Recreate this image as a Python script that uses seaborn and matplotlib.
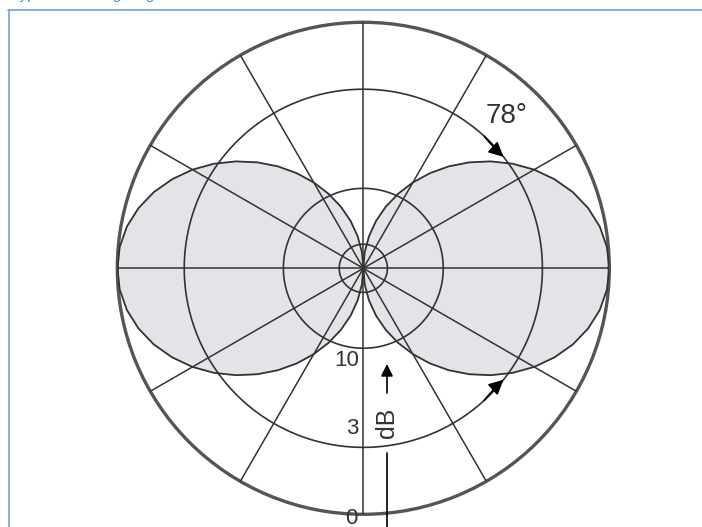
import numpy as np
import matplotlib
matplotlib.use("Agg")
import matplotlib.pyplot as plt
import seaborn as sns

# Radiation pattern of one lobe quadrant (angle in degrees, relative amplitude)
lobe_angle_deg = [0, 5, 10, 15, 20, 25, 30, 35, 40, 45,
                  50, 55, 60, 65, 70, 75, 80, 85, 90]
lobe_gain = [1.0, 0.994, 0.976, 0.946, 0.906, 0.857, 0.802, 0.741, 0.676, 0.609,
             0.541, 0.472, 0.403, 0.334, 0.266, 0.199, 0.132, 0.066, 0.0]

# Level rings (dB below maximum) and their radius on the chart
ring_db = [20, 10, 3, 0]
ring_radius = [0.098, 0.325, 0.728, 1.0]
ring_labels = ["10", "3", "0"]

spoke_deg = [0, 30, 60, 90, 120, 150, 180, 210, 240, 270, 300, 330]
beamwidth_label = "78°"
half_beam_deg = 38.5

sns.set_theme(style="white")
plt.rcParams["font.family"] = ["Liberation Sans", "DejaVu Sans"]

fig = plt.figure(figsize=(7.02, 5.27), dpi=100)

# polar axes: centre (363, 268) px, radius 246 px
ax = fig.add_axes([0.1671, 0.0241, 0.7009, 0.9336], projection="polar")
ax.set_facecolor("white")

# build the figure-8 pattern from the quadrant by symmetry
a = np.array(lobe_angle_deg, dtype=float)
g = np.array(lobe_gain)
right_ang = np.concatenate([-a[::-1], a[1:]])
right_gain = np.concatenate([g[::-1], g[1:]])
theta = np.radians(np.concatenate([right_ang, right_ang + 180]))
gain = np.concatenate([right_gain, right_gain])

ax.fill(theta, gain, color="#e3e4e8", zorder=1)
sns.lineplot(x=theta, y=gain, sort=False, estimator=None, ax=ax,
             color="#333333", linewidth=1.3, zorder=3)

# rings and spokes
circ = np.linspace(0, 2 * np.pi, 361)
for rr in ring_radius[:-1]:
    ax.plot(circ, np.full_like(circ, rr), color="#333333", lw=1.2, zorder=4)
for s in spoke_deg:
    ax.plot([np.radians(s), np.radians(s)], [0, 1], color="#333333", lw=1.1, zorder=4)

ax.set_ylim(0, 1)
ax.grid(False)
ax.set_xticks([])
ax.set_yticks([])
ax.spines["polar"].set_linewidth(2.4)
ax.spines["polar"].set_color("#555555")
ax.set_xlabel("")
ax.set_ylabel("")

# beamwidth arrows on the 3 dB ring
r3 = ring_radius[2]
arrow_kw = dict(arrowstyle="-|>", color="black", lw=1.2, mutation_scale=22,
                shrinkA=0, shrinkB=0)
ax.annotate("", xy=(np.radians(half_beam_deg), r3), xytext=(np.radians(half_beam_deg + 9), r3),
            arrowprops=dict(arrow_kw, connectionstyle="arc3,rad=0.04"), zorder=6)
ax.annotate("", xy=(np.radians(-half_beam_deg), r3), xytext=(np.radians(-half_beam_deg - 9), r3),
            arrowprops=dict(arrow_kw, connectionstyle="arc3,rad=-0.04"), zorder=6)

# overlay in pixel coordinates for labels and frame
ov = fig.add_axes([0, 0, 1, 1], facecolor="none")
ov.set_xlim(0, 702)
ov.set_ylim(527, 0)
ov.axis("off")

ov.text(507, 116, beamwidth_label, fontsize=20, color="#333333", ha="center", va="center")

label_pos = [(347, 361), (352, 429), (351, 518)]
for lab, (x, y) in zip(ring_labels, label_pos):
    ov.text(x, y, lab, fontsize=16, color="#333333", ha="center", va="center")

ov.text(387, 423, "dB", fontsize=18, color="#333333", rotation=90, ha="center", va="center")
ov.annotate("", xy=(387, 364), xytext=(387, 393),
            arrowprops=dict(arrowstyle="-|>", color="black", lw=1.2, mutation_scale=18,
                            shrinkA=0, shrinkB=0))
ov.plot([387, 387], [453, 527], color="black", lw=1.2)

# page frame and clipped caption (only descenders show, as in the source page)
ov.plot([8.5, 8.5], [10, 527], color="#6fa3d6", lw=1.2)
ov.plot([8, 702], [10, 10], color="#6fa3d6", lw=1.2)
ov.text(11, -1.2, "Typical radiating diagram", fontsize=11, color="#4a8fd4",
        va="baseline", ha="left", clip_on=False)

fig.savefig("out.png", dpi=100)
